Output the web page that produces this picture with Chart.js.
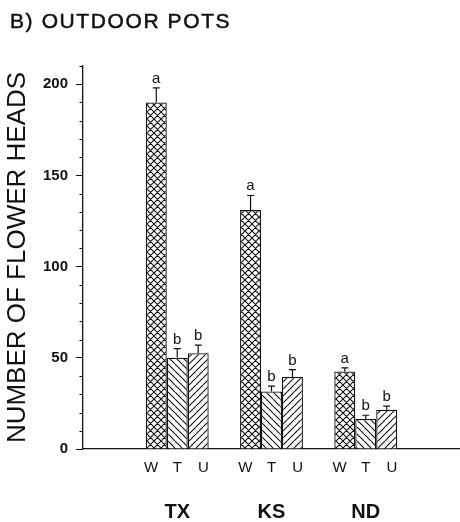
<!DOCTYPE html>
<html>
<head>
<meta charset="utf-8">
<script src="https://cdn.jsdelivr.net/npm/chart.js@4.4.1/dist/chart.umd.min.js"></script>
<style>
  html, body { margin: 0; padding: 0; background: #fff; }
  #wrap { width: 460px; height: 522px; position: relative; }
</style>
</head>
<body>
<div id="wrap"><canvas id="chart"></canvas></div>
<script>
const groups = ["TX", "KS", "ND"];
const treatments = ["W", "T", "U"];
const valuesW = [190, 131, 42.5];
const valuesT = [50, 31.5, 16.5];
const valuesU = [52.5, 39.5, 21.5];
const errW = [8, 8, 2];
const errT = [5, 3, 2];
const errU = [4.5, 4, 2];
const lettersW = ["a", "a", "a"];
const lettersT = ["b", "b", "b"];
const lettersU = ["b", "b", "b"];
const yMax = 210;
const yMajor = 50;
const yMinor = 10;

const FONT = "'Liberation Sans', Arial, sans-serif";
const INK = "#111";

// hatch fills like the printed figure
function makePattern(kind) {
    const s = 7;
    const c = document.createElement("canvas");
    c.width = s;
    c.height = s;
    const g = c.getContext("2d");
    g.fillStyle = "#fff";
    g.fillRect(0, 0, s, s);
    g.strokeStyle = "#111";
    g.lineWidth = 1.1;
    g.beginPath();
    for (const o of [-s, 0, s]) {
        if (kind === "back" || kind === "cross") {
            g.moveTo(o, 0);
            g.lineTo(o + s, s);
        }
        if (kind === "fwd" || kind === "cross") {
            g.moveTo(o, s);
            g.lineTo(o + s, 0);
        }
    }
    g.stroke();
    return g.createPattern(c, "repeat");
}

const pad = arr => [null, ...arr, null];

const errorBars = {
    id: "errorBars",
    afterDatasetsDraw(chart) {
        const ctx = chart.ctx;
        const yScale = chart.scales.y;
        const mid = chart.getDatasetMeta(1).data;
        ctx.save();
        chart.data.datasets.forEach((ds, i) => {
            const meta = chart.getDatasetMeta(i);
            meta.data.forEach((el, j) => {
                const v = ds.data[j];
                if (v === null || v === undefined) return;
                const k = j - 1;
                const top = yScale.getPixelForValue(v + ds.err[k]);
                ctx.strokeStyle = INK;
                ctx.lineWidth = 1.2;
                ctx.beginPath();
                ctx.moveTo(el.x, el.y);
                ctx.lineTo(el.x, top);
                ctx.moveTo(el.x - 3.5, top);
                ctx.lineTo(el.x + 3.5, top);
                ctx.stroke();

                ctx.fillStyle = INK;
                ctx.font = "15px " + FONT;
                ctx.textAlign = "center";
                ctx.textBaseline = "alphabetic";
                ctx.fillText(ds.letters[k], el.x, top - 5);

                // treatment letters sit a little wider apart than the bars
                const cx = mid[j].x;
                ctx.fillText(ds.label, cx + (el.x - cx) * 1.25, 472);
            });
        });
        ctx.restore();
    }
};

const extras = {
    id: "extras",
    afterDraw(chart) {
        const ctx = chart.ctx;
        const y = chart.scales.y;
        ctx.save();
        // minor ticks
        ctx.strokeStyle = INK;
        ctx.lineWidth = 1;
        ctx.beginPath();
        y.ticks.forEach(t => {
            if (t.value % yMajor === 0) return;
            const py = Math.round(y.getPixelForValue(t.value)) + 0.5;
            ctx.moveTo(y.right - 3.5, py);
            ctx.lineTo(y.right, py);
        });
        ctx.stroke();
        // panel title
        ctx.fillStyle = INK;
        ctx.strokeStyle = INK;
        ctx.lineWidth = 0.5;
        ctx.font = "21px " + FONT;
        ctx.letterSpacing = "1.6px";
        ctx.textAlign = "left";
        ctx.textBaseline = "alphabetic";
        ctx.fillText("B) OUTDOOR POTS", 10, 28);
        ctx.strokeText("B) OUTDOOR POTS", 10, 28);
        ctx.restore();
    }
};

const ctx = document.getElementById("chart").getContext("2d");
new Chart(ctx, {
    type: "bar",
    data: {
        labels: ["", ...groups, ""],
        datasets: [
            {label: treatments[0], data: pad(valuesW), err: errW, letters: lettersW, backgroundColor: makePattern("cross")},
            {label: treatments[1], data: pad(valuesT), err: errT, letters: lettersT, backgroundColor: makePattern("back")},
            {label: treatments[2], data: pad(valuesU), err: errU, letters: lettersU, backgroundColor: makePattern("fwd")}
        ].map(d => Object.assign(d, {
            borderColor: INK,
            borderWidth: 1.3,
            categoryPercentage: 0.667,
            barPercentage: 1.0
        }))
    },
    options: {
        responsive: true,
        maintainAspectRatio: false,
        animation: false,
        layout: {padding: {top: 66, left: 0, right: 0, bottom: 0}},
        plugins: {
            legend: {display: false},
            tooltip: {enabled: false},
            title: {display: false}
        },
        scales: {
            x: {
                type: "category",
                offset: false,
                grid: {display: false},
                border: {display: true, color: INK, width: 1.3},
                ticks: {
                    autoSkip: false,
                    maxRotation: 0,
                    color: INK,
                    padding: 43,
                    font: {family: FONT, size: 20, weight: "bold"}
                },
                afterFit(scale) {
                    scale.height = 73;
                    scale.paddingLeft = 0;
                    scale.paddingRight = 0;
                }
            },
            y: {
                min: 0,
                max: yMax,
                border: {display: true, color: INK, width: 1.3},
                grid: {
                    drawOnChartArea: false,
                    drawTicks: true,
                    tickLength: 7,
                    tickColor: c => (c.tick && c.tick.value % yMajor === 0) ? INK : "rgba(0,0,0,0)"
                },
                ticks: {
                    stepSize: yMinor,
                    autoSkip: false,
                    color: INK,
                    padding: 8,
                    font: {family: FONT, size: 15, weight: "bold"},
                    callback: v => (v % yMajor === 0 ? v : "")
                },
                title: {
                    display: true,
                    text: "NUMBER OF FLOWER HEADS",
                    color: INK,
                    padding: {top: 2, bottom: 0},
                    font: {family: FONT, size: 26}
                },
                afterFit(scale) { scale.width = 83; }
            }
        }
    },
    plugins: [errorBars, extras]
});
</script>
</body>
</html>
